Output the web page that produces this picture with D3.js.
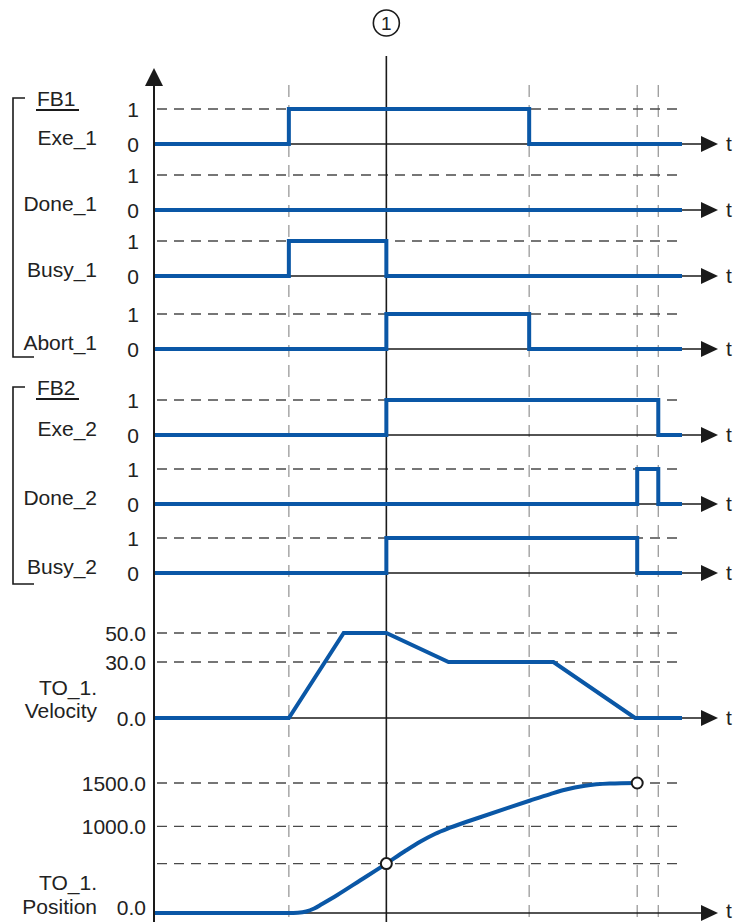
<!DOCTYPE html>
<html>
<head>
<meta charset="utf-8">
<script src="https://cdn.jsdelivr.net/npm/d3@7/dist/d3.min.js"></script>
<style>
  html, body { margin: 0; padding: 0; background: #fff; }
  svg { display: block; font-family: "Liberation Sans", Arial, sans-serif; }
</style>
</head>
<body>
<svg id="chart" width="734" height="922"></svg>
<script>
// ---- data -------------------------------------------------------------
const timeLabel = "t";
const timeDomain = [0, 10];
// instants with a vertical guide line
const guideTimes = [2.54, 7.10, 9.15, 9.55];
// instant marked with (1)
const markerTime = 4.39;
const markerLabel = "1";

const signalNames = ["Exe_1", "Done_1", "Busy_1", "Abort_1", "Exe_2", "Done_2", "Busy_2"];
const groupNames = ["FB1", "FB2"];
const levelLabels = ["0", "1"];

// each signal as [time, level] steps
const exe1   = [[0, 0], [2.54, 1], [7.10, 0], [10, 0]];
const done1  = [[0, 0], [10, 0]];
const busy1  = [[0, 0], [2.54, 1], [4.39, 0], [10, 0]];
const abort1 = [[0, 0], [4.39, 1], [7.10, 0], [10, 0]];
const exe2   = [[0, 0], [4.39, 1], [9.55, 0], [10, 0]];
const done2  = [[0, 0], [9.15, 1], [9.55, 0], [10, 0]];
const busy2  = [[0, 0], [4.39, 1], [9.15, 0], [10, 0]];
const signals = [exe1, done1, busy1, abort1, exe2, done2, busy2];

// TO_1.Velocity
const velocityTicks = [0, 30, 50];
const velocityTickLabels = ["0.0", "30.0", "50.0"];
const velocityT = [0, 2.54, 3.58, 4.39, 5.57, 7.56, 9.11, 10];
const velocityV = [0, 0, 50, 50, 30, 30, 0, 0];

// TO_1.Position
const positionTicks = [0, 1000, 1500];
const positionTickLabels = ["0.0", "1000.0", "1500.0"];
const positionGrid = [570, 1000, 1500];
const positionT = [0, 2.54, 2.71, 2.87, 3.02, 3.17, 3.46, 3.89, 4.39, 4.74, 5.03, 5.31, 5.60, 6.17, 6.74, 7.12, 7.50, 7.78, 8.16, 8.63, 9.15];
const positionV = [0, 0, 3, 17, 52, 104, 208, 375, 570, 712, 822, 912, 985, 1105, 1222, 1298, 1372, 1422, 1468, 1493, 1500];
const positionMarks = [4.39, 9.15];

// ---- layout -----------------------------------------------------------
const BLUE = "#0a57a6";
const INK = "#222";
const svg = d3.select("#chart");
const axisX = 154;
const lineEnd = 682;      // end of plotted traces
const axisEnd = 703;      // where arrowheads start
const gridEnd = 680;
const rowBase = [144, 210, 276, 349, 435, 504, 573];
const rowH = 35;
const fontSize = 21;

const x = d3.scaleLinear().domain(timeDomain).range([axisX + 1, lineEnd]);
const yVel = d3.scaleLinear().domain(velocityTicks).range([718, 662, 633]);
const yPos = d3.scaleLinear().domain([0, 1500]).range([913, 783]);

const gGrid = svg.append("g");
const gAxes = svg.append("g");
const gTraces = svg.append("g");
const gText = svg.append("g");

function label(xp, yp, txt, anchor, size) {
  return gText.append("text")
    .attr("x", xp).attr("y", yp)
    .attr("text-anchor", anchor || "start")
    .attr("font-size", size || fontSize)
    .attr("fill", INK)
    .text(txt);
}

// vertical dashed guides
guideTimes.forEach(t => {
  gGrid.append("line")
    .attr("x1", x(t)).attr("x2", x(t))
    .attr("y1", 85).attr("y2", 922)
    .attr("stroke", "#9a9a9a").attr("stroke-width", 1.3)
    .attr("stroke-dasharray", "12,8");
});

function hDash(y) {
  gGrid.append("line")
    .attr("x1", axisX + 3).attr("x2", gridEnd)
    .attr("y1", y).attr("y2", y)
    .attr("stroke", "#4a4a4a").attr("stroke-width", 1.4)
    .attr("stroke-dasharray", "10,7");
}

function timeAxis(y) {
  gAxes.append("line")
    .attr("x1", axisX).attr("x2", axisEnd)
    .attr("y1", y).attr("y2", y)
    .attr("stroke", "#1a1a1a").attr("stroke-width", 1.5);
  gAxes.append("path")
    .attr("d", `M${axisEnd - 2},${y - 8} L${axisEnd + 15},${y} L${axisEnd - 2},${y + 8} Z`)
    .attr("fill", "#1a1a1a");
  label(726, Math.min(y + 7, 918), timeLabel, "start", 21);
}

// main vertical axis with arrow
gAxes.append("line")
  .attr("x1", axisX).attr("x2", axisX)
  .attr("y1", 80).attr("y2", 922)
  .attr("stroke", "#1a1a1a").attr("stroke-width", 2);
gAxes.append("path")
  .attr("d", `M${axisX - 9},${86} L${axisX},${68} L${axisX + 9},${86} Z`)
  .attr("fill", "#1a1a1a");

// marker line and circled label
const mx = x(markerTime);
gAxes.append("line")
  .attr("x1", mx).attr("x2", mx)
  .attr("y1", 56).attr("y2", 922)
  .attr("stroke", "#1a1a1a").attr("stroke-width", 1.6);
gAxes.append("circle")
  .attr("cx", mx).attr("cy", 23).attr("r", 13)
  .attr("fill", "none").attr("stroke", "#1a1a1a").attr("stroke-width", 1.6);
label(mx, 30, markerLabel, "middle", 19);

// binary signals
const stepLine = d3.line()
  .x(d => x(d[0]))
  .curve(d3.curveStepAfter);

signals.forEach((sig, i) => {
  const y0 = rowBase[i];
  const yLevel = d3.scaleLinear().domain([0, 1]).range([y0, y0 - rowH]);
  hDash(yLevel(1));
  timeAxis(y0);
  levelLabels.forEach((lab, k) => label(133, yLevel(k) + 7.5, lab, "middle"));
  label(97, y0 + 1, signalNames[i], "end");
  gTraces.append("path")
    .datum(sig)
    .attr("d", stepLine.y(d => yLevel(d[1])))
    .attr("fill", "none").attr("stroke", BLUE).attr("stroke-width", 4)
    .attr("stroke-linejoin", "miter");
});

// group brackets
const bracketSpans = [[98, 357], [387, 584]];
groupNames.forEach((name, gi) => {
  const [top, bottom] = bracketSpans[gi];
  gAxes.append("path")
    .attr("d", `M25,${top} H13 V${bottom} H34`)
    .attr("fill", "none").attr("stroke", "#1a1a1a").attr("stroke-width", 1.6);
  label(37, top + 8, name);
  gAxes.append("line")
    .attr("x1", 36).attr("x2", 79)
    .attr("y1", top + 12).attr("y2", top + 12)
    .attr("stroke", "#1a1a1a").attr("stroke-width", 2);
});

// velocity panel
velocityTicks.forEach((v, i) => {
  if (v !== 0) hDash(yVel(v));
  label(146, yVel(v) + 7.5, velocityTickLabels[i], "end");
});
timeAxis(yVel(0));
label(97, 695, "TO_1.", "end");
label(97, 718, "Velocity", "end");

const velPts = velocityT.map((t, i) => [t, velocityV[i]]);
gTraces.append("path")
  .datum(velPts)
  .attr("d", d3.line().x(d => x(d[0])).y(d => yVel(d[1])))
  .attr("fill", "none").attr("stroke", BLUE).attr("stroke-width", 4)
  .attr("stroke-linejoin", "miter");

// position panel
positionGrid.forEach(v => hDash(yPos(v)));
positionTicks.forEach((v, i) => {
  label(146, yPos(v) + (v === 0 ? 2 : 7.5), positionTickLabels[i], "end");
});
timeAxis(yPos(0));
label(97, 890, "TO_1.", "end");
label(97, 914, "Position", "end");

const posPts = positionT.map((t, i) => [t, positionV[i]]);
gTraces.append("path")
  .datum(posPts)
  .attr("d", d3.line().x(d => x(d[0])).y(d => yPos(d[1])).curve(d3.curveMonotoneX))
  .attr("fill", "none").attr("stroke", BLUE).attr("stroke-width", 4);

positionMarks.forEach(t => {
  const i = positionT.indexOf(t);
  gTraces.append("circle")
    .attr("cx", x(t)).attr("cy", yPos(positionV[i])).attr("r", 5.5)
    .attr("fill", "#fff").attr("stroke", "#1a1a1a").attr("stroke-width", 2);
});
</script>
</body>
</html>
